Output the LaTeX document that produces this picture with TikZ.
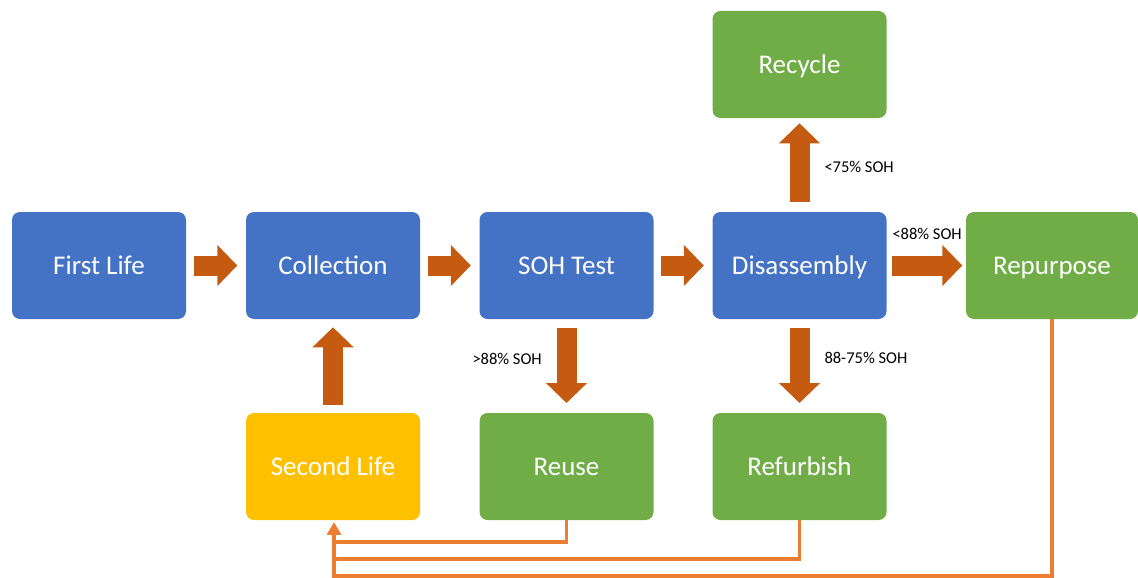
\documentclass[tikz,border=0pt]{standalone}
\usepackage{fontspec}
\setmainfont{Carlito}
\usetikzlibrary{arrows.meta,calc}
\definecolor{bblue}{HTML}{4472C4}
\definecolor{bgreen}{HTML}{70AD47}
\definecolor{byellow}{HTML}{FFC000}
\definecolor{barrow}{HTML}{C55A11}
\definecolor{bline}{HTML}{ED7D31}
\begin{document}
\begin{tikzpicture}[x=1pt,y=-1pt,
  box/.style={rounded corners=8pt, minimum width=174pt, minimum height=107pt,
    inner sep=0pt, outer sep=0pt, text=white, font=\fontsize{27}{30}\selectfont,
    text height=17.5pt, text depth=0pt},
  bluebox/.style={box, fill=bblue},
  greenbox/.style={box, fill=bgreen},
  yellowbox/.style={box, fill=byellow},
  blockarrow/.style={draw=barrow, line width=20pt,
    -{Triangle[width=40pt,length=20pt]}, barrow},
  feedback/.style={draw=bline, line width=3.2pt,
    -{Triangle[width=13pt,length=12pt]}, shorten >=2.5pt},
  lbl/.style={anchor=base west, inner sep=0pt, font=\fontsize{16.5}{18}\selectfont, text=black}
]
\useasboundingbox (0,0) rectangle (1138,578);

% nodes
\node[bluebox] (first) at (99,265.5) {First Life};
\node[bluebox] (coll) at (333,265.5) {Collection};
\node[bluebox] (soh) at (566.5,265.5) {SOH Test};
\node[bluebox] (dis) at (799.5,265.5) {Disassembly};
\node[greenbox, minimum width=172pt] (rep) at (1052,265.5) {Repurpose};
\node[greenbox] (rec) at (799.5,64.5) {Recycle};
\node[yellowbox] (second) at (333,466.5) {Second Life};
\node[greenbox] (reuse) at (566.5,466.5) {Reuse};
\node[greenbox] (refurb) at (799.5,466.5) {Refurbish};

% block arrows
\draw[blockarrow] ($(first.east)+(8,0)$) -- ($(coll.west)+(-8.7,0)$);
\draw[blockarrow] ($(coll.east)+(8,0)$) -- ($(soh.west)+(-8.7,0)$);
\draw[blockarrow] ($(soh.east)+(7,0)$) -- ($(dis.west)+(-8.7,0)$);
\draw[blockarrow] ($(dis.east)+(5.5,0)$) -- ($(rep.west)+(-3.7,0)$);
\draw[blockarrow] ($(second.north)+(0,-8)$) -- ($(coll.south)+(0,8.3)$);
\draw[blockarrow] ($(dis.north)+(0,-9.7)$) -- ($(rec.south)+(0,5.3)$);
\draw[blockarrow] ($(soh.south)+(0,9)$) -- ($(reuse.north)+(0,-10)$);
\draw[blockarrow] ($(dis.south)+(0,9)$) -- ($(refurb.north)+(0,-10)$);

% labels
\node[lbl] (l1) at (472.3,364.3) {>88\% SOH};
\node[lbl] (l2) at (824.3,172.7) {<75\% SOH};
\node[lbl] (l3) at (892.3,239.3) {<88\% SOH};
\node[lbl] (l4) at (824.3,363.3) {88-75\% SOH};

% feedback connectors
\coordinate (c1) at (334,542);
\coordinate (c2) at (334,559);
\coordinate (c3) at (334,576);
\draw[feedback] (reuse.south) |- (c1) -- (c1 |- second.south);
\draw[feedback] (refurb.south) |- (c2) -- (c2 |- second.south);
\draw[feedback] (rep.south) |- (c3) -- (c3 |- second.south);
\end{tikzpicture}
\end{document}
